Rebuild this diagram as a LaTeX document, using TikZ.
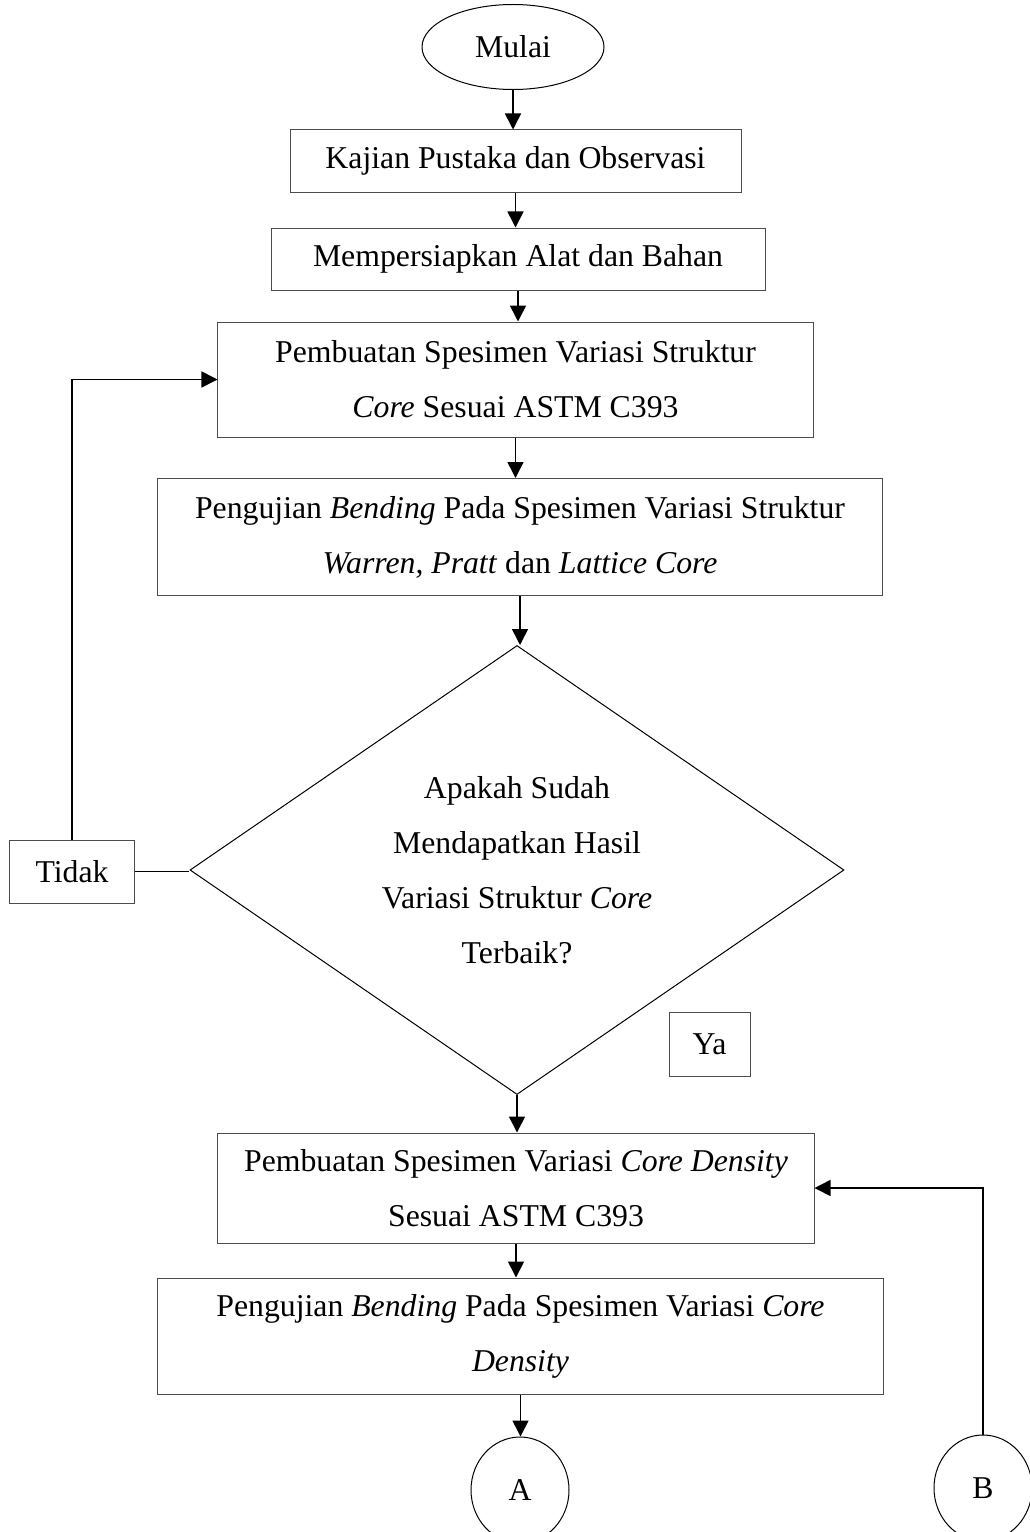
\documentclass[tikz,border=0pt]{standalone}
\usepackage{fontspec}
\setmainfont{Liberation Serif}
\usetikzlibrary{shapes.geometric,arrows.meta}

\tikzset{
  kotak/.style={draw=black!70, line width=0.4pt, rectangle, align=center, inner sep=0pt},
  bulat/.style={draw=black, line width=0.4pt, ellipse, inner sep=0pt},
  panah/.style={line width=0.65pt, -{Triangle[length=6.4pt,width=6.4pt]}},
  garis/.style={line width=0.65pt}
}

\begin{document}
\begin{tikzpicture}[x=0.4pt, y=-0.4pt, font=\fontsize{12.7}{22}\selectfont]
        \useasboundingbox (0,0) rectangle (1030,1532);
        \clip (0,0) rectangle (1030,1532);
        % langkah
        \node[bulat, minimum width=72.8pt, minimum height=34pt] (mulai) at (513,47) {Mulai};
        \node[kotak, minimum width=180.4pt, minimum height=24.8pt] (kajian) at (515.5,161) {Kajian Pustaka dan Observasi};
        \node[kotak, minimum width=197.6pt, minimum height=24.8pt] (alat) at (518,259) {Mempersiapkan Alat dan Bahan};
        \node[kotak, minimum width=238pt, minimum height=46pt] (spesimen) at (515.5,379.5) {Pembuatan Spesimen Variasi Struktur\\\textit{Core} Sesuai ASTM C393};
        \node[kotak, minimum width=289.6pt, minimum height=46.8pt] (bending) at (520,537) {Pengujian \textit{Bending} Pada Spesimen Variasi Struktur\\\textit{Warren, Pratt} dan \textit{Lattice Core}};
        \node[draw, diamond, line width=0.4pt, aspect=1.46, inner sep=0pt, minimum width=261.6pt, minimum height=179.6pt, align=center] (keputusan) at (517,870) {Apakah Sudah\\Mendapatkan Hasil\\Variasi Struktur \textit{Core}\\Terbaik?};
        \node[kotak, minimum width=49.6pt, minimum height=25.2pt] (tidak) at (72,871.5) {Tidak};
        \node[kotak, minimum width=32.4pt, minimum height=25.6pt] (ya) at (709.5,1044) {Ya};
        \node[kotak, minimum width=238.4pt, minimum height=44pt] (density) at (516,1188) {Pembuatan Spesimen Variasi \textit{Core Density}\\Sesuai ASTM C393};
        \node[kotak, minimum width=290pt, minimum height=46.4pt] (ujidensity) at (520.5,1336) {Pengujian \textit{Bending} Pada Spesimen Variasi \textit{Core}\\\textit{Density}};
        \node[bulat, minimum width=39.2pt, minimum height=42.4pt] (a) at (520,1490) {A};
        \node[bulat, minimum width=39.2pt, minimum height=42.4pt] (b) at (983,1488) {B};
        % panah
        \draw[panah] (mulai.south) -- (mulai.south |- kajian.north);
        \draw[panah] (kajian.south) -- (kajian.south |- alat.north);
        \draw[panah] (alat.south) -- (alat.south |- spesimen.north);
        \draw[panah] (spesimen.south) -- (spesimen.south |- bending.north);
        \draw[panah] (bending.south) -- (bending.south |- keputusan.north);
        \draw[garis] (tidak.east) -- (tidak.east -| keputusan.west);
        \draw[panah] (tidak.north) |- (spesimen.west);
        \draw[panah] (keputusan.south) -- (keputusan.south |- density.north);
        \draw[panah] (density.south) -- (density.south |- ujidensity.north);
        \draw[panah] (ujidensity.south) -- (ujidensity.south |- a.north);
        \draw[panah] (b.north) |- (density.east);
\end{tikzpicture}
\end{document}
